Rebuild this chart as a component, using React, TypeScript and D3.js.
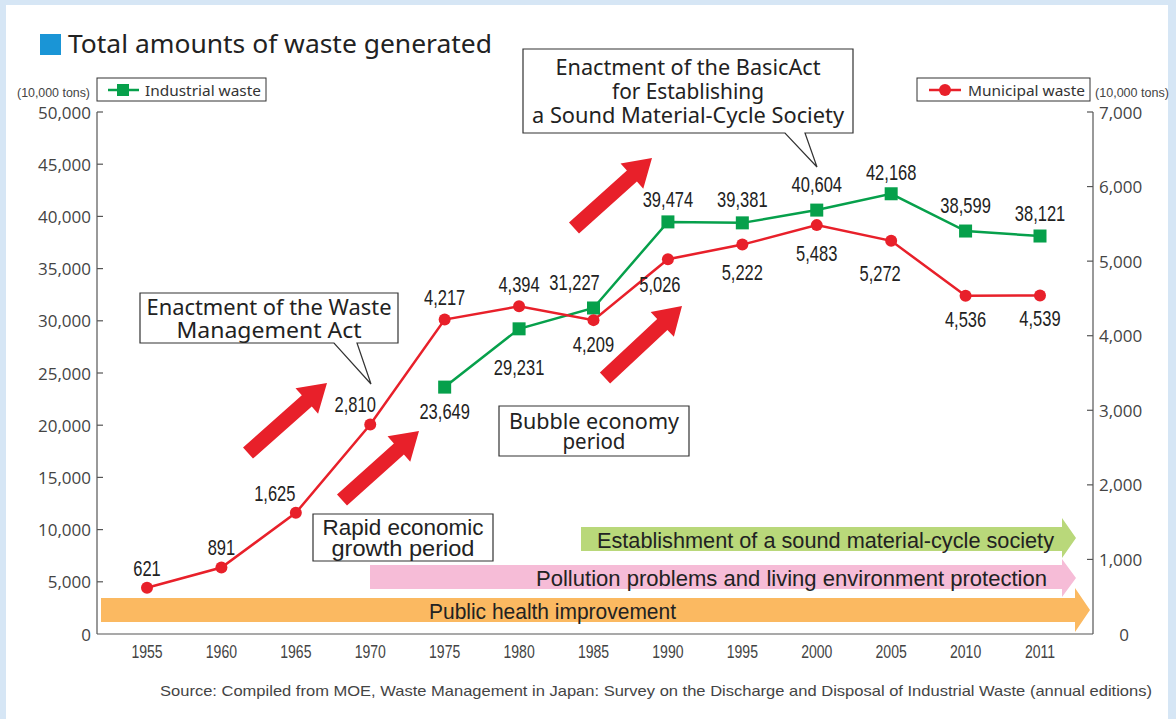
import React from 'react'
import * as d3 from 'd3'

// data (10,000 tons)
const years = ['1955', '1960', '1965', '1970', '1975', '1980', '1985', '1990', '1995', '2000', '2005', '2010', '2011']
const municipal = [621, 891, 1625, 2810, 4217, 4394, 4209, 5026, 5222, 5483, 5272, 4536, 4539]
const industrial: (number | null)[] = [null, null, null, null, 23649, 29231, 31227, 39474, 39381, 40604, 42168, 38599, 38121]
const leftTicks = [0, 5000, 10000, 15000, 20000, 25000, 30000, 35000, 40000, 45000, 50000]
const rightTicks = [0, 1000, 2000, 3000, 4000, 5000, 6000, 7000]

// label placement (dx, dy from the point)
const muniLabelOff = [[0, -20], [0, -20], [-21, -20], [-15, -20], [0, -22], [0, -22], [0, 24], [-8, 25], [0, 27], [0, 28], [-11, 32], [0, 23], [0, 23]]
const indLabelOff = [[0, 0], [0, 0], [0, 0], [0, 0], [0, 24], [0, 38], [-19, -26], [0, -23], [0, -24], [0, -26], [0, -22], [0, -26], [0, -23]]

const RED = '#e8202a'
const GREEN = '#06a04b'
const NUM_FONT = '"Liberation Sans", Arial, sans-serif'
const TXT_FONT = '"Noto Sans", "Open Sans", sans-serif'

const W = 1176, H = 719
const left = 97, right = 1093, top = 112, bottom = 634

// fat decorative arrows: [tailX, tailY, tipX, tipY]
const fatArrows = [
  [248, 453, 327, 383],
  [342, 500, 419, 431],
  [574, 228, 652, 158],
  [605, 378, 682, 306],
]

function fatArrow(x1: number, y1: number, x2: number, y2: number) {
  const dx = x2 - x1, dy = y2 - y1
  const len = Math.sqrt(dx * dx + dy * dy)
  const ux = dx / len, uy = dy / len
  const nx = -uy, ny = ux
  const sw = 7.5, hw = 17, hl = 27
  const bx = x2 - ux * hl, by = y2 - uy * hl
  const p = [
    [x1 + nx * sw, y1 + ny * sw],
    [bx + nx * sw, by + ny * sw],
    [bx + nx * hw, by + ny * hw],
    [x2, y2],
    [bx - nx * hw, by - ny * hw],
    [bx - nx * sw, by - ny * sw],
    [x1 - nx * sw, y1 - ny * sw],
  ]
  return 'M' + p.map(d => d.join(',')).join('L') + 'Z'
}

// narrow text: horizontally squeezed
function NT(props: { x: number, y: number, size: number, sx?: number, anchor?: string, fill?: string, children: any }) {
  const sx = props.sx || 0.82
  return (
    <text transform={`translate(${props.x},${props.y}) scale(${sx},1)`} textAnchor={props.anchor || 'middle'}
      dominantBaseline="central" fontFamily={NUM_FONT} fontSize={props.size} fill={props.fill || '#222'}>{props.children}</text>
  )
}

function calloutPath(x0: number, y0: number, x1: number, y1: number, tail?: number[]) {
  if (!tail) return `M${x0},${y0}H${x1}V${y1}H${x0}Z`
  const [b1, b2, tx, ty] = tail
  return `M${x0},${y0}H${x1}V${y1}H${b2}L${tx},${ty}L${b1},${y1}H${x0}Z`
}

function Callout(props: { box: number[], lines: string[], widths?: number[], tail?: number[], font?: string, size?: number, lh?: number }) {
  const [x0, y0, x1, y1] = props.box
  const cx = (x0 + x1) / 2
  const lh = props.lh || 23
  const n = props.lines.length
  const cy = (y0 + y1) / 2
  return (
    <g>
      <path d={calloutPath(x0, y0, x1, y1, props.tail)} fill="#fff" stroke="#333" strokeWidth={1.2} />
      {props.lines.map((l, i) => (
        <text key={i} x={cx} y={cy + (i - (n - 1) / 2) * lh} textAnchor="middle" dominantBaseline="central"
          fontFamily={props.font || TXT_FONT} fontSize={props.size || 20} fill="#222"
          textLength={props.widths ? props.widths[i] : undefined} lengthAdjust="spacingAndGlyphs">{l}</text>
      ))}
    </g>
  )
}

function Band(props: { x0: number, x1: number, y0: number, y1: number, tip: number, hy0: number, hy1: number, color: string, label: string, lx: number, lw: number }) {
  const { x0, x1, y0, y1, tip, hy0, hy1, color } = props
  const my = (hy0 + hy1) / 2
  const d = `M${x0},${y0}H${x1}V${hy0}L${tip},${my}L${x1},${hy1}V${y1}H${x0}Z`
  return (
    <g>
      <path d={d} fill={color} />
      <text x={props.lx} y={(y0 + y1) / 2 + 1} dominantBaseline="central" textLength={props.lw} lengthAdjust="spacingAndGlyphs"
        fontFamily={NUM_FONT} fontSize={22} fill="#222">{props.label}</text>
    </g>
  )
}

export default function App() {
  const x = d3.scalePoint<string>().domain(years).range([147, 1040])
  const yL = d3.scaleLinear().domain([0, 50000]).range([bottom, top])
  const yR = d3.scaleLinear().domain([0, 7000]).range([bottom, top])
  const fmt = d3.format(',')

  const muniPts = years.map((yr, i) => ({ yr, v: municipal[i], i }))
  const indPts = years.map((yr, i) => ({ yr, v: industrial[i], i })).filter(d => d.v != null) as { yr: string, v: number, i: number }[]

  const muniLine = d3.line<{ yr: string, v: number }>().x(d => x(d.yr)!).y(d => yR(d.v))
  const indLine = d3.line<{ yr: string, v: number }>().x(d => x(d.yr)!).y(d => yL(d.v))

  return (
    <svg width={W} height={H} style={{ position: 'absolute', left: 0, top: 0, display: 'block' }}>
      <rect x={0} y={0} width={W} height={H} fill="#d6e6f5" />
      <rect x={6} y={5} width={1162} height={H - 5} fill="#fff" />

      {/* title */}
      <rect x={40} y={34} width={21} height={21} fill="#1a95d6" />
      <text x={68} y={53} fontFamily={TXT_FONT} fontSize={26} fill="#222" textLength={424} lengthAdjust="spacingAndGlyphs">Total amounts of waste generated</text>

      {/* bands */}
      <Band x0={101} x1={1075} y0={598} y1={622} tip={1090} hy0={588} hy1={632} color="#fbb961" label="Public health improvement" lx={429} lw={247} />
      <Band x0={370} x1={1062} y0={565} y1={589} tip={1076} hy0={559} hy1={597} color="#f6bcd7" label="Pollution problems and living environment protection" lx={536} lw={511} />
      <Band x0={581} x1={1062} y0={527} y1={551} tip={1076} hy0={518} hy1={558} color="#b9d87a" label="Establishment of a sound material-cycle society" lx={597} lw={457} />

      {/* axes */}
      <line x1={left} x2={left} y1={top} y2={bottom} stroke="#555" strokeWidth={1.2} />
      <line x1={right} x2={right} y1={top} y2={bottom} stroke="#555" strokeWidth={1.2} />
      <line x1={left} x2={right} y1={bottom} y2={bottom} stroke="#555" strokeWidth={1.2} />
      {leftTicks.map(t => (
        <g key={'l' + t}>
          {t > 0 && <line x1={left} x2={left + 6} y1={yL(t)} y2={yL(t)} stroke="#555" strokeWidth={1.2} />}
          <text x={91} y={yL(t)} textAnchor="end" dominantBaseline="central" fontFamily='"Open Sans", sans-serif' fontSize={17} fill="#444">{fmt(t)}</text>
        </g>
      ))}
      {rightTicks.map(t => (
        <g key={'r' + t}>
          {t > 0 && <line x1={right} x2={right - 6} y1={yR(t)} y2={yR(t)} stroke="#555" strokeWidth={1.2} />}
          <text x={t === 0 ? 1124 : 1099} y={yR(t)} textAnchor={t === 0 ? 'middle' : 'start'} dominantBaseline="central" fontFamily='"Open Sans", sans-serif' fontSize={17} fill="#444">{fmt(t)}</text>
        </g>
      ))}
      {years.map(yr => (
        <NT key={yr} x={x(yr)!} y={651} size={18} sx={0.78} fill="#444">{yr}</NT>
      ))}
      <text x={17} y={97} textLength={73} lengthAdjust="spacingAndGlyphs" fontFamily={NUM_FONT} fontSize={13} fill="#444">(10,000 tons)</text>
      <text x={1095} y={97} textLength={74} lengthAdjust="spacingAndGlyphs" fontFamily={NUM_FONT} fontSize={13} fill="#444">(10,000 tons)</text>

      {/* legends */}
      <rect x={97} y={78} width={169} height={23} fill="#fff" stroke="#333" strokeWidth={1} />
      <line x1={108} x2={139} y1={90} y2={90} stroke={GREEN} strokeWidth={2.5} />
      <rect x={117} y={84} width={12} height={12} fill={GREEN} />
      <text x={145} y={90} dominantBaseline="central" fontFamily={TXT_FONT} fontSize={15} fill="#333" textLength={116} lengthAdjust="spacingAndGlyphs">Industrial waste</text>
      <rect x={917} y={78} width={173} height={23} fill="#fff" stroke="#333" strokeWidth={1} />
      <line x1={929} x2={961} y1={90} y2={90} stroke={RED} strokeWidth={2.5} />
      <circle cx={945} cy={90} r={6} fill={RED} />
      <text x={968} y={90} dominantBaseline="central" fontFamily={TXT_FONT} fontSize={15} fill="#333" textLength={117} lengthAdjust="spacingAndGlyphs">Municipal waste</text>

      {/* decorative arrows */}
      {fatArrows.map((a, i) => <path key={i} d={fatArrow(a[0], a[1], a[2], a[3])} fill={RED} />)}

      {/* callouts */}
      <Callout box={[140, 293, 398, 343]} tail={[334, 357, 371, 384]} size={21} widths={[245, 185]} lines={['Enactment of the Waste', 'Management Act']} />
      <Callout box={[523, 49, 853, 133]} tail={[785, 805, 817, 167]} size={21} lh={24} widths={[265, 152, 312]} lines={['Enactment of the BasicAct', 'for Establishing', 'a Sound Material-Cycle Society']} />
      <Callout box={[499, 406, 689, 456]} size={21} lh={20} widths={[170, 63]} lines={['Bubble economy', 'period']} />
      <Callout box={[313, 514, 493, 561]} font={NUM_FONT} size={22} lh={21} widths={[161, 143]} lines={['Rapid economic', 'growth period']} />

      {/* series */}
      <path d={indLine(indPts)!} fill="none" stroke={GREEN} strokeWidth={2.5} />
      <path d={muniLine(muniPts)!} fill="none" stroke={RED} strokeWidth={2.5} />
      {indPts.map(d => (
        <rect key={'i' + d.yr} x={x(d.yr)! - 6.5} y={yL(d.v) - 6.5} width={13} height={13} fill={GREEN} />
      ))}
      {muniPts.map(d => (
        <circle key={'m' + d.yr} cx={x(d.yr)} cy={yR(d.v)} r={6} fill={RED} />
      ))}
      {indPts.map(d => (
        <NT key={'it' + d.yr} x={x(d.yr)! + indLabelOff[d.i][0]} y={yL(d.v) + indLabelOff[d.i][1]} size={22} sx={0.75}>{fmt(d.v)}</NT>
      ))}
      {muniPts.map(d => (
        <NT key={'mt' + d.yr} x={x(d.yr)! + muniLabelOff[d.i][0]} y={yR(d.v) + muniLabelOff[d.i][1]} size={22} sx={0.75}>{fmt(d.v)}</NT>
      ))}

      <text x={160} y={690} textLength={992} lengthAdjust="spacingAndGlyphs" dominantBaseline="central" fontFamily={NUM_FONT} fontSize={15} fill="#444">
        Source: Compiled from MOE, Waste Management in Japan: Survey on the Discharge and Disposal of Industrial Waste (annual editions)
      </text>
    </svg>
  )
}
